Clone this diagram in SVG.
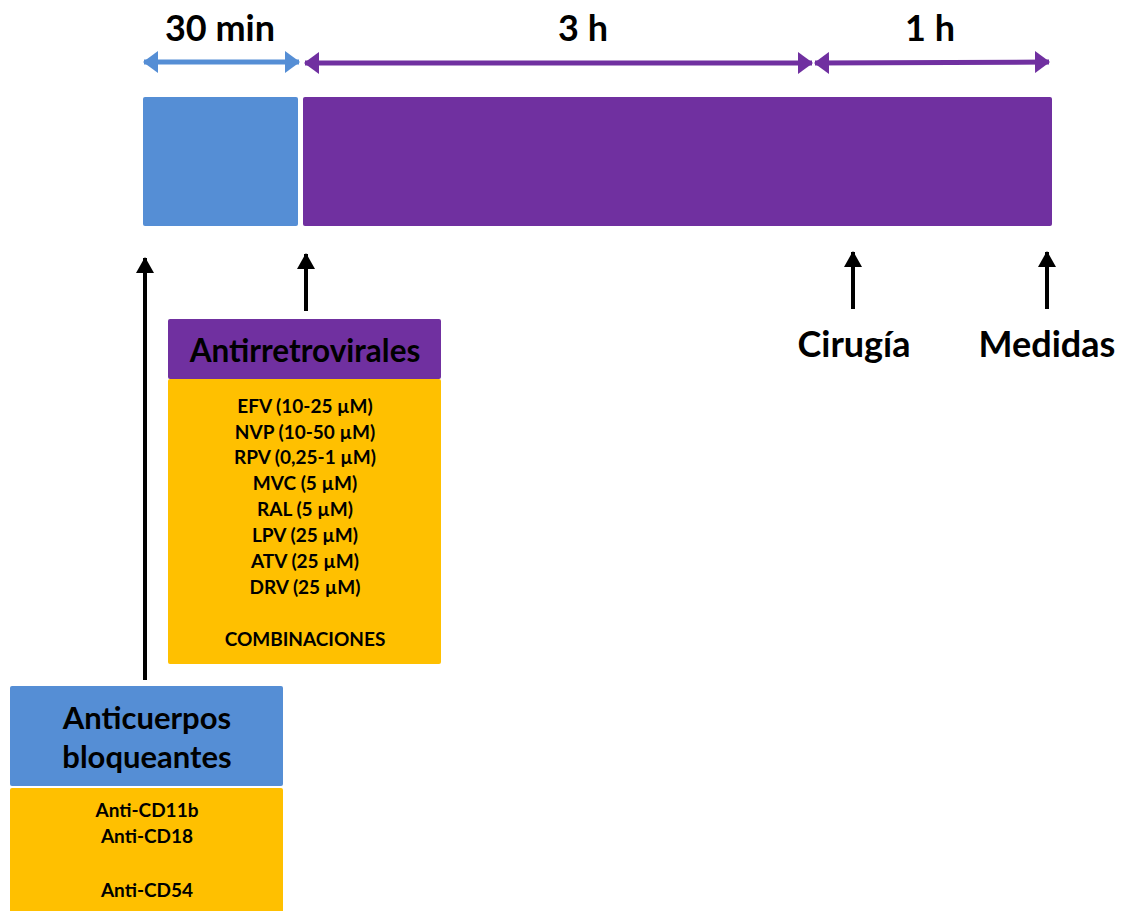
<svg xmlns="http://www.w3.org/2000/svg" width="1124" height="911" viewBox="0 0 1124 911">
<style>
text{font-family:Lato,"Open Sans","DejaVu Sans",sans-serif;font-weight:bold;fill:#000;text-anchor:middle}
.big{font-size:36px}
.hdr{font-size:31.5px}
.hdr2{font-size:31px}
.sm{font-size:19px}
.blue{fill:#558ED5}
.purple{fill:#7030A0}
.orange{fill:#FFC000}
</style>
<defs>
<marker id="ab" viewBox="0 0 15 22" refX="14" refY="11" markerWidth="15" markerHeight="22" markerUnits="userSpaceOnUse" orient="auto-start-reverse"><path d="M0,0 L15,11 L0,22 Z" fill="#558ED5"/></marker>
<marker id="ap" viewBox="0 0 15 22" refX="14" refY="11" markerWidth="15" markerHeight="22" markerUnits="userSpaceOnUse" orient="auto-start-reverse"><path d="M0,0 L15,11 L0,22 Z" fill="#7030A0"/></marker>
<marker id="ak" viewBox="0 0 16 18" refX="15" refY="9" markerWidth="16" markerHeight="18" markerUnits="userSpaceOnUse" orient="auto"><path d="M0,0 L16,9 L0,18 Z" fill="#000"/></marker>
</defs>
<g id="timeline">
<rect class="blue" x="143" y="97" width="155" height="129" rx="2"/>
<rect class="purple" x="303" y="97" width="749" height="129" rx="2"/>
<text class="big" x="220" y="41">30 min</text>
<text class="big" x="583" y="41">3 h</text>
<text class="big" x="930" y="41">1 h</text>
</g>
<g id="connectors">
<line x1="144" y1="62" x2="299" y2="62" stroke="#558ED5" stroke-width="5" marker-start="url(#ab)" marker-end="url(#ab)"/>
<line x1="305" y1="63" x2="812" y2="63" stroke="#7030A0" stroke-width="5" marker-start="url(#ap)" marker-end="url(#ap)"/>
<line x1="815" y1="63" x2="1049" y2="62" stroke="#7030A0" stroke-width="5" marker-start="url(#ap)" marker-end="url(#ap)"/>
<line x1="145" y1="680" x2="145" y2="258" stroke="#000" stroke-width="4" marker-end="url(#ak)"/>
<line x1="306" y1="311" x2="306" y2="254" stroke="#000" stroke-width="4" marker-end="url(#ak)"/>
<line x1="853" y1="309" x2="853" y2="252" stroke="#000" stroke-width="4" marker-end="url(#ak)"/>
<line x1="1047" y1="309" x2="1047" y2="252" stroke="#000" stroke-width="4" marker-end="url(#ak)"/>
</g>
<g id="cirugia"><text class="big" x="854" y="357">Cirugía</text></g>
<g id="medidas"><text class="big" x="1047" y="357">Medidas</text></g>
<g id="antirretrovirales">
<rect class="purple" x="168" y="319" width="273" height="60" rx="2"/>
<rect class="orange" x="168" y="379" width="273" height="285" rx="2"/>
<text class="hdr" x="305" y="362">Antirretrovirales</text>
<text class="sm" x="305" y="413">EFV (10-25 µM)</text>
<text class="sm" x="305" y="439">NVP (10-50 µM)</text>
<text class="sm" x="305" y="464">RPV (0,25-1 µM)</text>
<text class="sm" x="305" y="490">MVC (5 µM)</text>
<text class="sm" x="305" y="516">RAL (5 µM)</text>
<text class="sm" x="305" y="542">LPV (25 µM)</text>
<text class="sm" x="305" y="568">ATV (25 µM)</text>
<text class="sm" x="305" y="594">DRV (25 µM)</text>
<text class="sm" x="305" y="646">COMBINACIONES</text>
</g>
<g id="anticuerpos">
<rect class="blue" x="10" y="686" width="273" height="100" rx="2"/>
<rect class="orange" x="10" y="788" width="273" height="125" rx="2"/>
<text class="hdr2" x="147" y="729">Anticuerpos</text>
<text class="hdr2" x="147" y="768">bloqueantes</text>
<text class="sm" x="147" y="817">Anti-CD11b</text>
<text class="sm" x="147" y="843">Anti-CD18</text>
<text class="sm" x="147" y="897">Anti-CD54</text>
</g>
</svg>
